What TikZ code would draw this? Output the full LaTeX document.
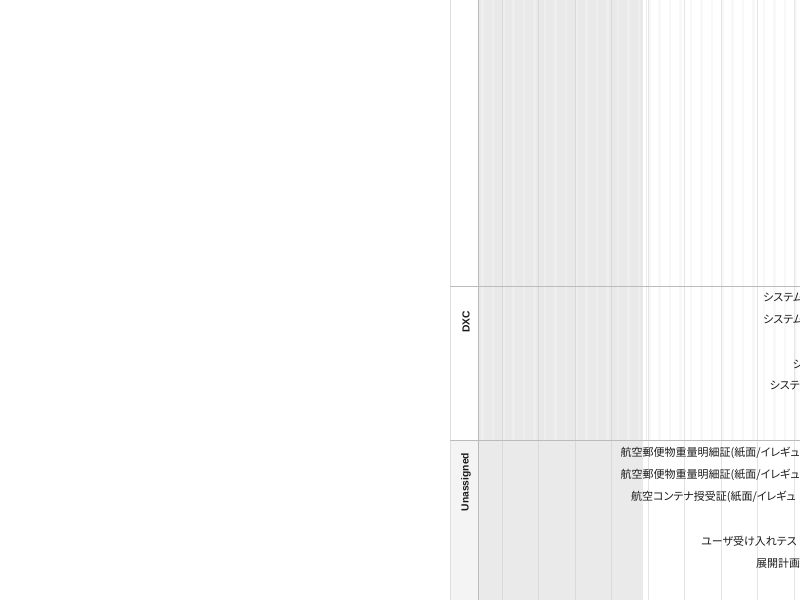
\documentclass[tikz,border=0pt]{standalone}
\usepackage{fontspec}
\setmainfont{Liberation Sans}
\newfontfamily\jp[RawFeature=+palt]{Noto Sans CJK JP}
\definecolor{pastbg}{HTML}{E9E9E9}
\definecolor{pastlite}{HTML}{EEEEEE}
\definecolor{futlite}{HTML}{F8F8F8}
\definecolor{pastweek}{HTML}{D9D9D9}
\definecolor{futweek}{HTML}{E4E4E4}
\definecolor{border}{HTML}{BBBBBB}
\definecolor{lightborder}{HTML}{DDDDDD}
\definecolor{unasbg}{HTML}{F4F4F4}
\definecolor{txt}{HTML}{1A1A1A}
\tikzset{
  tasklabel/.style={anchor=west, inner sep=0pt, text=txt, font=\jp\fontsize{11}{13}\selectfont},
  lanelabel/.style={rotate=90, inner sep=0pt, text=txt, font=\bfseries\fontsize{10.3}{12}\selectfont},
  weekline/.style={line width=1pt}
}
\begin{document}
\begin{tikzpicture}[x=1pt,y=-1pt]
\useasboundingbox (0,0) rectangle (800,600);
\fill[white] (0,0) rectangle (800,600);
\begin{scope}
\clip (450,0) rectangle (800,600);
% past region, upper lanes, with day stripes
\fill[pastbg] (478,0) rectangle (643,440);
\begin{scope}
\clip (478,0) rectangle (643,440);
\foreach \d in {-6,-4,...,30} {
  \pgfmathsetmacro\xa{502+5.2143*\d}
  \fill[pastlite] (\xa,0) rectangle ++(2.6,440);
}
\end{scope}
% future region, upper lanes, faint day stripes
\begin{scope}
\clip (643,0) rectangle (800,440);
\foreach \d in {28,30,...,58} {
  \pgfmathsetmacro\xa{502+5.2143*\d}
  \fill[futlite] (\xa,0) rectangle ++(2.6,440);
}
\end{scope}
% unassigned lane past region
\fill[pastbg!97!white] (478,440) rectangle (643,600);
% label column
\fill[white] (450,0) rectangle (478,440);
\fill[unasbg] (450,440) rectangle (478,600);
% week lines
\foreach \k in {0,...,3} {
  \pgfmathsetmacro\xw{502+36.5*\k}
  \draw[weekline, pastweek] (\xw,0) -- (\xw,600);
}
\foreach \k in {4,...,8} {
  \pgfmathsetmacro\xw{502+36.5*\k}
  \draw[weekline, futweek] (\xw,0) -- (\xw,600);
}
\draw[line width=0.8pt, futweek!70!white] (646,0) -- (646,440);
% borders
\draw[line width=1pt, lightborder] (450.5,0) -- (450.5,600);
\draw[line width=1pt, border] (478.5,0) -- (478.5,600);
\draw[line width=1pt, border] (450,286.5) -- (800,286.5);
\draw[line width=1pt, border] (450,440.5) -- (800,440.5);
% lane labels
\node[lanelabel] (dxc) at (466,322) {DXC};
\node[lanelabel] (unas) at (466,482) {Unassigned};
% DXC tasks
\node[tasklabel] (d1) at (763,298) {システム};
\node[tasklabel] (d2) at (763,320) {システム};
\node[tasklabel] (d3) at (792.5,364) {シ};
\node[tasklabel] (d4) at (769.5,386) {システ};
% Unassigned tasks
\node[tasklabel] (u1) at (620.5,453) {航空郵便物重量明細証(紙面/イレギュ};
\node[tasklabel] (u2) at (620.5,475) {航空郵便物重量明細証(紙面/イレギュ};
\node[tasklabel] (u3) at (631,497) {航空コンテナ授受証(紙面/イレギュ};
\node[tasklabel] (u4) at (701,541) {ユーザ受け入れテス};
\node[tasklabel] (u5) at (756,563) {展開計画};
\end{scope}
\end{tikzpicture}
\end{document}
